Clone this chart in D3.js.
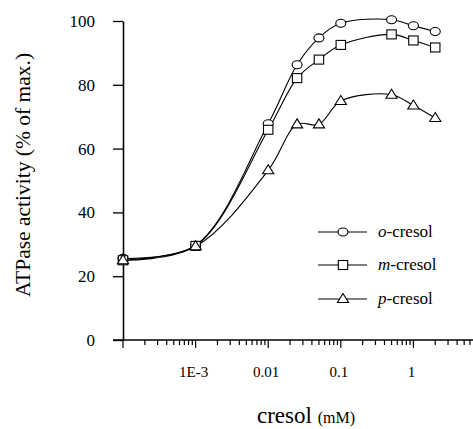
<!DOCTYPE html>
<html>
<head>
<meta charset="utf-8">
<script src="https://cdn.jsdelivr.net/npm/d3@7"></script>
<style>
  body { margin: 0; background: #fff; }
  svg text { font-family: "Liberation Serif", "Times New Roman", Times, "DejaVu Serif", serif; fill: #000; }
</style>
</head>
<body>
<script>
//Concentrations (mM) and ATPase activity for each cresol isomer.
const concentrations = [0.0001, 0.001, 0.01, 0.025, 0.05, 0.1, 0.5, 1, 2];
const oCresol = [25.6, 29.7, 67.8, 86.3, 94.7, 99.3, 100.4, 98.5, 96.7];
const mCresol = [25.0, 29.5, 65.9, 82.1, 87.9, 92.5, 95.8, 93.9, 91.7];
const pCresol = [25.0, 29.4, 53.2, 67.6, 67.6, 74.9, 76.9, 73.5, 69.6];

//Tick labels.
const yTicks = [0, 20, 40, 60, 80, 100];
const xLabelled = [0.001, 0.01, 0.1, 1];
const xLabelText = ["1E-3", "0.01", "0.1", "1"];

//Series names and marker types.
const seriesNames = ["o", "m", "p"];
const seriesMarkers = ["circle", "square", "triangle"];

const width = 473;
const height = 429;
const serif = '"Liberation Serif", "Times New Roman", Times, "DejaVu Serif", serif';

const svg = d3.select("body")
  .append("svg")
  .attr("width", width)
  .attr("height", height)
  .attr("font-family", serif);

//Scales.
const x = d3.scaleLog()
  .domain([1e-4, Math.pow(10, 0.821)])
  .range([123, 473]);
const y = d3.scaleLinear()
  .domain([0, 100])
  .range([340, 21]);

//Y axis.
const yAxis = svg.append("g")
  .attr("transform", `translate(${x(1e-4)},0)`)
  .call(d3.axisLeft(y).tickValues(yTicks).tickSize(10).tickSizeOuter(0).tickPadding(18));
yAxis.attr("font-family", serif).attr("font-size", 17);
yAxis.select(".domain").attr("stroke-width", 1.6);
yAxis.selectAll(".tick line").attr("stroke-width", 1.3);

//X axis line with log ticks.
const minorTicks = [];
for (let k = -4; k <= 0; k++) {
  for (let m = 1; m <= 9; m++) {
    const v = m * Math.pow(10, k);
    if (v <= x.domain()[1]) minorTicks.push(v);
  }
}
const xAxis = svg.append("g");
xAxis.append("line")
  .attr("x1", x(1e-4) - 10).attr("x2", width)
  .attr("y1", y(0)).attr("y2", y(0))
  .attr("stroke", "#000").attr("stroke-width", 1.6);
xAxis.selectAll("line.tick")
  .data(minorTicks)
  .join("line")
  .attr("class", "tick")
  .attr("x1", d => x(d)).attr("x2", d => x(d))
  .attr("y1", y(0))
  .attr("y2", d => y(0) + (Math.abs(Math.log10(d) - Math.round(Math.log10(d))) < 1e-9 ? 8 : 5))
  .attr("stroke", "#000").attr("stroke-width", 1.2);
xAxis.selectAll("text")
  .data(xLabelled)
  .join("text")
  .attr("x", d => x(d) - 2)
  .attr("y", 377)
  .attr("text-anchor", "middle")
  .style("font-size", "15px")
  .text((d, i) => xLabelText[i]);

//Axis titles.
svg.append("text")
  .attr("transform", `translate(30,175) rotate(-90)`)
  .attr("text-anchor", "middle")
  .style("font-size", "21.5px")
  .text("ATPase activity (% of max.)");
const xTitle = svg.append("text")
  .attr("x", 306)
  .attr("y", 423)
  .attr("text-anchor", "middle");
xTitle.append("tspan").style("font-size", "23px").text("cresol ");
xTitle.append("tspan").style("font-size", "16px").text("(mM)");

//Line generator.
const line = d3.line()
  .x(d => x(d[0]))
  .y(d => y(d[1]))
  .curve(d3.curveCatmullRom.alpha(0.5));

//Marker drawing.
function drawMarker(g, type, cx, cy) {
  if (type === "circle") {
    g.append("ellipse").attr("cx", cx).attr("cy", cy).attr("rx", 5).attr("ry", 4)
      .attr("fill", "#fff").attr("stroke", "#000").attr("stroke-width", 1.1);
  } else if (type === "square") {
    g.append("rect").attr("x", cx - 4.7).attr("y", cy - 4.5).attr("width", 9.4).attr("height", 9)
      .attr("fill", "#fff").attr("stroke", "#000").attr("stroke-width", 1.1);
  } else {
    g.append("path")
      .attr("d", `M${cx},${cy - 5.5}L${cx + 5.6},${cy + 3.5}L${cx - 5.6},${cy + 3.5}Z`)
      .attr("fill", "#fff").attr("stroke", "#000").attr("stroke-width", 1.1);
  }
}

const allSeries = [oCresol, mCresol, pCresol];

//Draw lines first, then markers on top.
allSeries.forEach(vals => {
  svg.append("path")
    .datum(concentrations.map((c, i) => [c, vals[i]]))
    .attr("d", line)
    .attr("fill", "none")
    .attr("stroke", "#000")
    .attr("stroke-width", 1.1);
});
allSeries.forEach((vals, s) => {
  const g = svg.append("g");
  concentrations.forEach((c, i) => drawMarker(g, seriesMarkers[s], x(c), y(vals[i])));
});

//Legend.
const legendY = [232, 265, 299];
seriesNames.forEach((name, i) => {
  const g = svg.append("g");
  g.append("line")
    .attr("x1", 318).attr("x2", 367)
    .attr("y1", legendY[i]).attr("y2", legendY[i])
    .attr("stroke", "#000").attr("stroke-width", 1.1);
  drawMarker(g, seriesMarkers[i], 343, legendY[i]);
  const t = g.append("text")
    .attr("x", 378)
    .attr("y", legendY[i] + 5)
    .style("font-size", "17px");
  t.append("tspan").style("font-style", "italic").text(name);
  t.append("tspan").text("-cresol");
});
</script>
</body>
</html>
